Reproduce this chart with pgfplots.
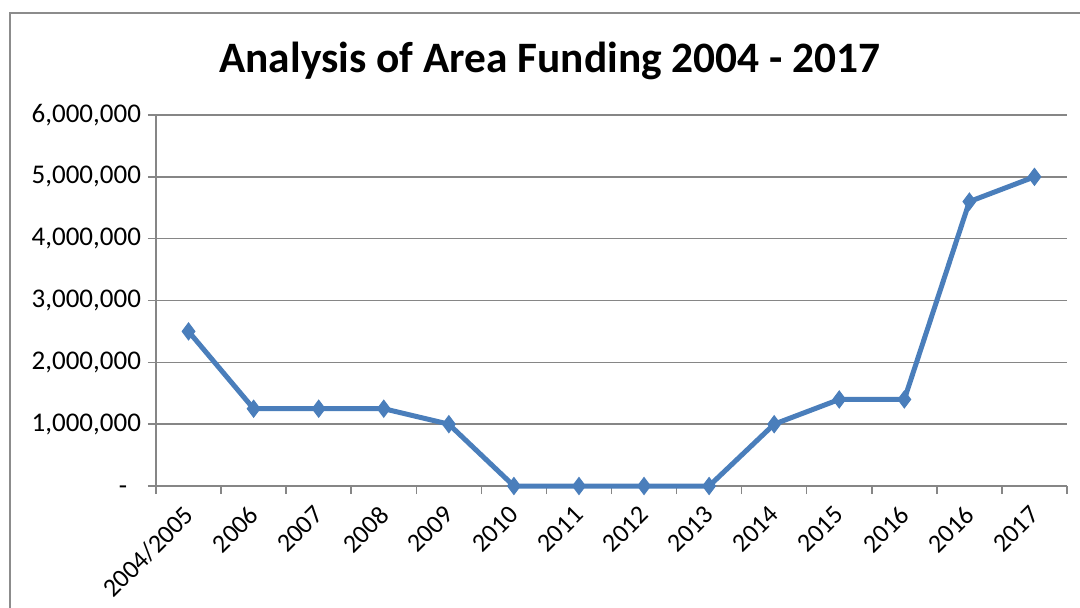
\documentclass[border=0pt]{standalone}
\usepackage{fontspec}
\setmainfont{Carlito}
\usepackage{pgfplots}
\pgfplotsset{compat=1.18}
\definecolor{serblue}{HTML}{4A7EBB}
\definecolor{gridgray}{HTML}{868686}
\definecolor{framegray}{HTML}{8C8C8C}
\newcommand{\lf}{\fontsize{13.5}{16}\selectfont}
\newcommand{\xf}{\fontsize{13}{16}\selectfont}
\begin{document}
\begin{tikzpicture}
\useasboundingbox (0,0) rectangle (540pt,-304pt);
\draw[color=framegray, line width=1pt] (4.75pt,-330pt) -- (4.75pt,-6.5pt) -- (560pt,-6.5pt);
\node[font=\fontsize{21.7}{26}\selectfont\bfseries, anchor=base, inner sep=0pt] at (275pt,-36.5pt) {Analysis of Area Funding 2004 - 2017};
\begin{axis}[
  at={(78pt,-243pt)}, anchor=south west,
  scale only axis, width=455.5pt, height=185.5pt,
  xmin=-0.5, xmax=13.5, ymin=0, ymax=6000000,
  axis lines*=left,
  axis line style={draw=gridgray, line width=0.75pt, -},
  ymajorgrids,
  grid style={draw=gridgray, line width=0.75pt},
  tick align=outside,
  major tick length=4pt,
  tick style={draw=gridgray, line width=0.75pt},
  xtick={-0.5,0.5,...,13.5},
  xticklabels={},
  extra x ticks={0,1,2,3,4,5,6,7,8,9,10,11,12,13},
  extra x tick labels={\xf 2004/2005,\xf 2006,\xf 2007,\xf 2008,\xf 2009,\xf 2010,\xf 2011,\xf 2012,\xf 2013,\xf 2014,\xf 2015,\xf 2016,\xf 2016,\xf 2017},
  extra x tick style={major tick length=0pt, grid=none,
    xticklabel style={yshift=-9pt, xshift=-3pt, rotate=45, anchor=north east, inner sep=0pt}},
  ytick={0,1000000,2000000,3000000,4000000,5000000,6000000},
  yticklabels={{\lf -\phantom{0}},{\lf 1,000,000},{\lf 2,000,000},{\lf 3,000,000},{\lf 4,000,000},{\lf 5,000,000},{\lf 6,000,000}},
  yticklabel style={anchor=east},
  scaled y ticks=false,
  clip=false,
]
\addplot[color=serblue, line width=2.5pt, mark=diamond*, mark size=4.25pt,
  mark options={fill=serblue, draw=serblue, line width=0.5pt}]
  coordinates {
  (0,2500000) (1,1250000) (2,1250000) (3,1250000) (4,1000000)
  (5,0) (6,0) (7,0) (8,0) (9,1000000) (10,1400000) (11,1400000)
  (12,4600000) (13,5000000)
  };
\end{axis}
\end{tikzpicture}
\end{document}
